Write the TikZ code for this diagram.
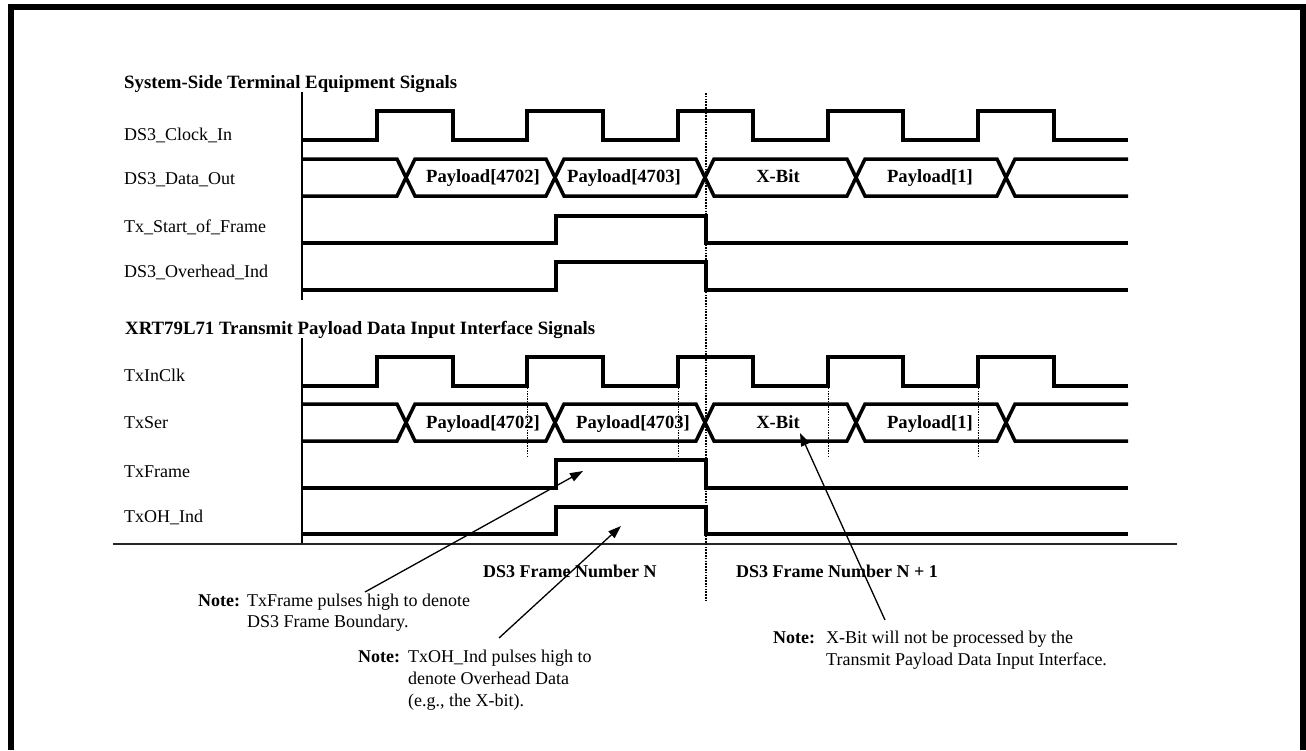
\documentclass[tikz,border=0pt]{standalone}
\usepackage{fontspec}
\setmainfont{Liberation Serif}
\usetikzlibrary{arrows.meta}
\newcommand\drawclk[2]{% #1 low y, #2 high y
  \draw[sig] (302,#1) -- (377,#1) -- (377,#2) -- (453,#2) -- (453,#1) -- (527,#1) -- (527,#2) -- (603,#2) -- (603,#1)
   -- (678,#1) -- (678,#2) -- (753,#2) -- (753,#1) -- (828,#1) -- (828,#2) -- (903,#2) -- (903,#1)
   -- (978,#1) -- (978,#2) -- (1054,#2) -- (1054,#1) -- (1128,#1);}
\newcommand\drawbus[2]{% #1 top y, #2 bottom y
  \draw[sig] (302,#1) -- (397,#1) -- (415,#2) -- (546,#2) -- (564,#1) -- (696,#1) -- (714,#2) -- (847,#2) -- (865,#1) -- (997,#1) -- (1015,#2) -- (1128,#2);
  \draw[sig] (302,#2) -- (397,#2) -- (415,#1) -- (546,#1) -- (564,#2) -- (696,#2) -- (714,#1) -- (847,#1) -- (865,#2) -- (997,#2) -- (1015,#1) -- (1128,#1);}
\newcommand\drawpulse[2]{% #1 low y, #2 high y
  \draw[sig] (302,#1) -- (556,#1) -- (556,#2) -- (706,#2) -- (706,#1) -- (1128,#1);}
\begin{document}
\begin{tikzpicture}[x=1pt,y=-1pt,
  every node/.style={font=\fontsize{18}{21}\selectfont, inner sep=0pt},
  sig/.style={line width=3.5pt, line join=miter},
  axis/.style={line width=1.5pt},
  lbl/.style={anchor=base west},
  ttl/.style={anchor=base west, font=\fontsize{18.8}{22}\selectfont\bfseries},
  fnum/.style={anchor=base west, font=\fontsize{18}{21}\selectfont\bfseries},
  buslbl/.style={anchor=base, font=\fontsize{18.6}{22}\selectfont\bfseries},
  notehd/.style={anchor=base west, font=\fontsize{18}{21}\selectfont\bfseries},
  bigdot/.style={line width=2.4pt, dash pattern=on 1.6pt off 1.2pt},
  smalldot/.style={line width=1pt, dash pattern=on 1.3pt off 1.3pt},
  notearrow/.style={line width=1.3pt, -{Triangle[length=13pt,width=9pt]}}]
\useasboundingbox (0,0) rectangle (1306,750);
% frame
\draw[line width=6pt] (11,750) -- (11,7) -- (1303,7) -- (1303,750);

% ---------- section 1 ----------
\node[ttl] (t1) at (124,88) {System-Side Terminal Equipment Signals};
\node[lbl] (l1) at (124,140) {DS3\_Clock\_In};
\node[lbl] (l2) at (124,184) {DS3\_Data\_Out};
\node[lbl] (l3) at (124,232) {Tx\_Start\_of\_Frame};
\node[lbl] (l4) at (124,277) {DS3\_Overhead\_Ind};
\draw[axis] (302,92) -- (302,300);
\drawclk{140}{111}
\drawbus{159}{196}
\drawpulse{243}{216}
\drawpulse{290}{262}
\node[buslbl] (b1) at (483,182) {Payload[4702]};
\node[buslbl] (b2) at (624,182) {Payload[4703]};
\node[buslbl] (b3) at (778,182) {X-Bit};
\node[buslbl] (b4) at (930,182) {Payload[1]};

% ---------- section 2 ----------
\node[ttl] (t2) at (125,334) {XRT79L71 Transmit Payload Data Input Interface Signals};
\node[lbl] (m1) at (124,381) {TxInClk};
\node[lbl] (m2) at (124,428) {TxSer};
\node[lbl] (m3) at (124,477) {TxFrame};
\node[lbl] (m4) at (124,522) {TxOH\_Ind};
\draw[axis] (302,338) -- (302,544);
\drawclk{386}{357}
\drawbus{404}{441}
\drawpulse{488}{460}
\drawpulse{534}{507}
\node[buslbl] (c1) at (483,428) {Payload[4702]};
\node[buslbl] (c2) at (633,428) {Payload[4703]};
\node[buslbl] (c3) at (778,428) {X-Bit};
\node[buslbl] (c4) at (930,428) {Payload[1]};
\foreach \xx in {527,678,828,978} \draw[smalldot] (\xx,388) -- (\xx,458);

% separator and frame boundary
\draw[line width=1.5pt, black!85] (113,544) -- (1177,544);
\draw[bigdot] (706,93) -- (706,600);

\node[fnum] (fn) at (483,577) {DS3 Frame Number N};
\node[fnum] (fn1) at (736,577) {DS3 Frame Number N + 1};

% notes
\node[notehd] (n1h) at (198,606) {Note:};
\node[lbl] (n1a) at (247,606) {TxFrame pulses high to denote};
\node[lbl] (n1b) at (247,627) {DS3 Frame Boundary.};

\node[notehd] (n2h) at (358,662) {Note:};
\node[lbl] (n2a) at (408,662) {TxOH\_Ind pulses high to};
\node[lbl] (n2b) at (408,684) {denote Overhead Data};
\node[lbl] (n2c) at (408,706) {(e.g., the X-bit).};

\node[notehd] (n3h) at (773,643) {Note:};
\node[lbl] (n3a) at (826,643) {X-Bit will not be processed by the};
\node[lbl] (n3b) at (826,665) {Transmit Payload Data Input Interface.};

\coordinate (a1s) at (365,592);
\coordinate (a1t) at (583,471);
\coordinate (a2s) at (499,638);
\coordinate (a2t) at (621,526);
\coordinate (a3s) at (885,620);
\coordinate (a3t) at (800,433);
\draw[notearrow] (a1s) -- (a1t);
\draw[notearrow] (a2s) -- (a2t);
\draw[notearrow] (a3s) -- (a3t);
\end{tikzpicture}
\end{document}
